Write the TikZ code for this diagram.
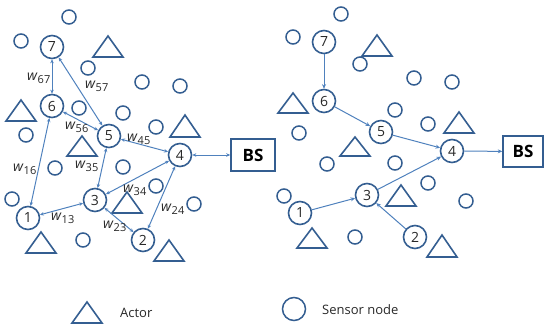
\documentclass[tikz,border=0pt]{standalone}
\usepackage{fontspec}
\setmainfont{Open Sans}
\usetikzlibrary{arrows.meta}
\definecolor{nodeblue}{RGB}{52,94,145}
\definecolor{arrowblue}{RGB}{79,129,189}
\definecolor{txt}{RGB}{40,40,40}
\tikzset{
  num/.style={circle,draw=nodeblue,line width=1.6pt,minimum size=23pt,inner sep=0pt,font=\fontsize{14}{14}\selectfont,text=txt},
  sensor/.style={circle,draw=nodeblue,line width=1.5pt,minimum size=14pt,inner sep=0pt},
  actor/.style={draw=nodeblue,line width=1.6pt,line join=miter},
  bsbox/.style={draw=nodeblue,line width=1.5pt,font=\bfseries\fontsize{17}{17}\selectfont,text=black},
  link/.style={draw=arrowblue,line width=1pt},
  dbl/.style={link,{Stealth[length=4pt,width=3.5pt]}-{Stealth[length=4pt,width=3.5pt]}},
  one/.style={link,-{Stealth[length=4.5pt,width=4pt]}},
  wl/.style={font=\fontsize{14}{14}\selectfont,text=txt,inner sep=0pt},
  legend/.style={font=\fontsize{13}{13}\selectfont,text=txt,anchor=west,inner sep=0pt}
}
\newcommand{\wlab}[1]{\textit{w}\textsubscript{\fontsize{11}{11}\selectfont #1}}
\newcommand{\tri}[3]{\draw[actor] (#1-15,#3) -- (#1,#2) -- (#1+15,#3) -- cycle;}
\begin{document}
\begin{tikzpicture}[x=1pt,y=-1pt]
\useasboundingbox (0,0) rectangle (544,329);
% ---------- left panel ----------
\foreach \p in {(69,17),(21,41),(88,68),(142,82),(180,86),(79,108),(123,113),(156,127),(26,135),(55,168),(123,167),(156,186),(12,199),(194,204),(83,240)}
  \node[sensor] at \p {};
\tri{108}{36}{57}
\tri{21}{100}{121}
\tri{185}{115}{137}
\tri{82}{136}{156}
\tri{127}{192}{213}
\tri{41}{232}{253}
\tri{169}{240}{261}
\node[num] (L7) at (52,47) {7};
\node[num] (L6) at (52,106) {6};
\node[num] (L5) at (109,136) {5};
\node[num] (L4) at (180,155) {4};
\node[num] (L3) at (95,200) {3};
\node[num] (L1) at (28,218) {1};
\node[num] (L2) at (143,240) {2};
\node[bsbox,minimum width=44pt,minimum height=32pt] (LBS) at (253,155) {BS};
\draw[dbl] (L7) -- (L6);
\draw[dbl] (L7) -- (L5);
\draw[dbl] (L6) -- (L5);
\draw[dbl] (L5) -- (L4);
\draw[dbl] (L1) -- (L6);
\draw[dbl] (L5) -- (L3);
\draw[dbl] (L4) -- (L3);
\draw[dbl] (L1) -- (L3);
\draw[dbl] (L3) -- (L2);
\draw[dbl] (L4) -- (L2);
\draw[dbl] (L4) -- (LBS);
\node[wl] (w67) at (39,78) {\wlab{67}};
\node[wl] (w57) at (97,86) {\wlab{57}};
\node[wl] (w56) at (77,127) {\wlab{56}};
\node[wl] (w45) at (139,139) {\wlab{45}};
\node[wl] (w16) at (25,169) {\wlab{16}};
\node[wl] (w35) at (87,166) {\wlab{35}};
\node[wl] (w34) at (135,190) {\wlab{34}};
\node[wl] (w13) at (63,218) {\wlab{13}};
\node[wl] (w23) at (115,226) {\wlab{23}};
\node[wl] (w24) at (173,209) {\wlab{24}};
% ---------- right panel ----------
\foreach \p in {(341,14),(293,37),(360,64),(414,78),(452,82),(395,110),(428,124),(299,133),(327,164),(395,163),(428,183),(284,196),(466,201),(355,237)}
  \node[sensor] at \p {};
\tri{377}{35}{56}
\tri{293}{93}{113}
\tri{459}{112}{133}
\tri{355}{137}{156}
\tri{401}{185}{206}
\tri{312}{228}{248}
\tri{442}{235}{257}
\node[num] (R7) at (324,42) {7};
\node[num] (R6) at (324,101) {6};
\node[num] (R5) at (381,132) {5};
\node[num] (R4) at (452,151) {4};
\node[num] (R3) at (367,195) {3};
\node[num] (R1) at (300,213) {1};
\node[num] (R2) at (415,237) {2};
\node[bsbox,minimum width=40pt,minimum height=31pt] (RBS) at (523,151.5) {BS};
\draw[one] (R7) -- (R6);
\draw[one] (R6) -- (R5);
\draw[one] (R5) -- (R4);
\draw[one] (R3) -- (R4);
\draw[one] (R1) -- (R3);
\draw[one] (R2) -- (R3);
\draw[one] (R4) -- (RBS);
% ---------- legend ----------
\draw[actor] (72,323) -- (87,302) -- (102,323) -- cycle;
\node[legend] (actorlab) at (120,313) {Actor};
\node[sensor,minimum size=23pt] (legsensor) at (294,309) {};
\node[legend] (sensorlab) at (322,310) {Sensor node};
\end{tikzpicture}
\end{document}
